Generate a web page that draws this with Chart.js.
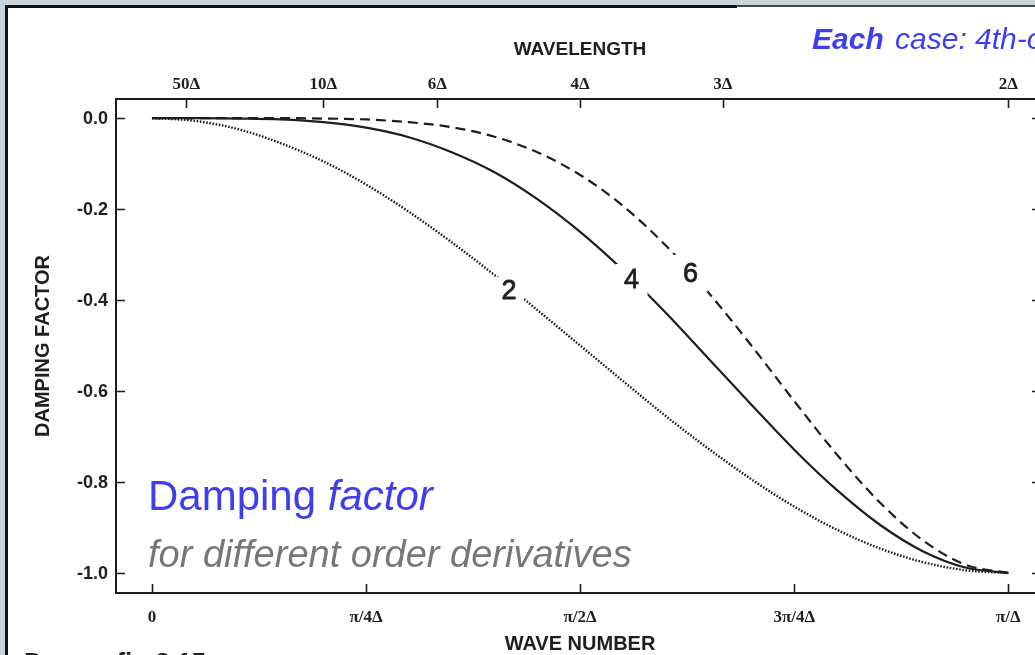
<!DOCTYPE html>
<html>
<head>
<meta charset="utf-8">
<script src="https://cdn.jsdelivr.net/npm/chart.js@4.4.1/dist/chart.umd.min.js"></script>
<style>
  html, body { margin: 0; padding: 0; background: #ffffff; overflow: hidden; }
  #wrap { position: absolute; left: 0; top: 0; width: 1050px; height: 655px; }
</style>
</head>
<body>
<div id="wrap"><canvas id="c" width="1050" height="655"></canvas></div>
<script>
// Wave number in units of pi/Δ
const waveNumber = [0, 0.05, 0.10, 0.15, 0.20, 0.25, 0.30, 0.35, 0.40, 0.45, 0.50,
                    0.55, 0.60, 0.65, 0.70, 0.75, 0.80, 0.85, 0.90, 0.95, 1.00];
// Damping factor for 2nd, 4th and 6th order diffusion
const damping2 = [0, -0.006, -0.024, -0.055, -0.095, -0.146, -0.206, -0.273, -0.345, -0.422, -0.500,
                  -0.578, -0.655, -0.727, -0.794, -0.854, -0.905, -0.946, -0.976, -0.994, -1.000];
const damping4 = [0, 0, -0.001, -0.003, -0.009, -0.021, -0.042, -0.075, -0.119, -0.178, -0.250,
                  -0.334, -0.428, -0.529, -0.630, -0.729, -0.818, -0.894, -0.952, -0.988, -1.000];
const damping6 = [0, 0, 0, 0, -0.001, -0.003, -0.009, -0.020, -0.041, -0.075, -0.125,
                  -0.193, -0.280, -0.384, -0.500, -0.622, -0.740, -0.845, -0.928, -0.982, -1.000];

const yTickValues = [0, -0.2, -0.4, -0.6, -0.8, -1.0];
const yTickLabels = ['0.0', '-0.2', '-0.4', '-0.6', '-0.8', '-1.0'];
const kTickValues = [0, 0.25, 0.5, 0.75, 1];
const kTickLabels = ['0', 'π/4Δ', 'π/2Δ', '3π/4Δ', 'π/Δ'];
const wavelengths = [50, 10, 6, 4, 3, 2];           // in units of Δ
const wavelengthLabels = ['50Δ', '10Δ', '6Δ', '4Δ', '3Δ', '2Δ'];

const curveNames = ['2', '4', '6'];
const curveNameAt = [[0.417, -0.378], [0.560, -0.356], [0.629, -0.341]];

const toPoints = (ys) => waveNumber.map((x, i) => ({ x: x, y: ys[i] }));

const INK = '#1e1e1e';
const SANS = '"Liberation Sans", Arial, sans-serif';
const SERIF = '"Liberation Serif", "Times New Roman", serif';

const decor = {
  id: 'decor',
  beforeDraw(chart) {
    const ctx = chart.ctx;
    ctx.save();
    ctx.fillStyle = '#ffffff';
    ctx.fillRect(0, 0, chart.width, chart.height);
    // slide frame
    ctx.fillStyle = '#c9d3da';
    ctx.fillRect(0, 0, chart.width, 5);
    ctx.fillRect(0, 0, 5, chart.height);
    ctx.fillStyle = '#111';
    ctx.fillRect(5, 5, 732, 3);
    ctx.fillRect(5, 5, 3, chart.height);
    ctx.fillStyle = '#444';
    ctx.fillRect(737, 5, chart.width - 737, 2);
    ctx.restore();
  },
  afterDatasetsDraw(chart) {
    const ctx = chart.ctx;
    const xs = chart.scales.x, ys = chart.scales.y;
    const a = chart.chartArea;
    ctx.save();

    // curve names, with the line broken around each one
    const boxes = [[30, 26], [32, 32], [34, 37]];
    ctx.font = '27px ' + SANS;
    ctx.textAlign = 'center';
    ctx.textBaseline = 'middle';
    ctx.lineWidth = 0.8;
    ctx.strokeStyle = INK;
    curveNames.forEach((t, i) => {
      const px = xs.getPixelForValue(curveNameAt[i][0]);
      const py = ys.getPixelForValue(curveNameAt[i][1]);
      ctx.fillStyle = '#ffffff';
      ctx.fillRect(px - boxes[i][0] / 2, py - boxes[i][1] / 2, boxes[i][0], boxes[i][1]);
      ctx.fillStyle = INK;
      ctx.fillText(t, px, py + 1);
      ctx.strokeText(t, px, py + 1);
    });

    // axis box
    ctx.strokeStyle = INK;
    ctx.lineWidth = 2;
    ctx.strokeRect(a.left, a.top, a.right - a.left, a.bottom - a.top);

    // inward ticks
    ctx.lineWidth = 1.6;
    ctx.beginPath();
    yTickValues.forEach(v => {
      const py = Math.round(ys.getPixelForValue(v)) + 0.5;
      ctx.moveTo(a.left - 1, py); ctx.lineTo(a.left + 9, py);
      ctx.moveTo(a.right - 8, py); ctx.lineTo(a.right, py);
    });
    kTickValues.forEach(v => {
      const px = Math.round(xs.getPixelForValue(v)) + 0.5;
      ctx.moveTo(px, a.bottom); ctx.lineTo(px, a.bottom - 9);
    });
    wavelengths.forEach(L => {
      const px = Math.round(xs.getPixelForValue(2 / L)) + 0.5;
      ctx.moveTo(px, a.top); ctx.lineTo(px, a.top + 9);
    });
    ctx.stroke();

    // tick labels
    ctx.fillStyle = INK;
    ctx.font = 'bold 18px ' + SANS;
    ctx.textAlign = 'right';
    ctx.textBaseline = 'middle';
    yTickValues.forEach((v, i) => ctx.fillText(yTickLabels[i], 108, ys.getPixelForValue(v) + 1));

    ctx.font = 'bold 17px ' + SERIF;
    ctx.textAlign = 'center';
    ctx.textBaseline = 'alphabetic';
    kTickValues.forEach((v, i) => ctx.fillText(kTickLabels[i], xs.getPixelForValue(v), 622));
    wavelengths.forEach((L, i) => ctx.fillText(wavelengthLabels[i], xs.getPixelForValue(2 / L), 89));

    // axis titles
    ctx.font = 'bold 19px ' + SANS;
    ctx.fillText('WAVELENGTH', 580, 55);
    ctx.font = 'bold 20px ' + SANS;
    ctx.fillText('WAVE NUMBER', 580, 650);
    ctx.save();
    ctx.translate(49, 346);
    ctx.rotate(-Math.PI / 2);
    ctx.fillText('DAMPING FACTOR', 0, 0);
    ctx.restore();

    // caption partly below the slide edge
    ctx.textAlign = 'left';
    ctx.font = 'bold 26px ' + SANS;
    ctx.fillText('Durran fig 3.15', 24, 671);

    // slide headline text
    ctx.fillStyle = '#3d3df2';
    ctx.font = '42px ' + SANS;
    ctx.fillText('Damping ', 148, 510);
    let w = ctx.measureText('Damping ').width;
    ctx.font = 'italic 42px ' + SANS;
    ctx.fillText('factor', 148 + w, 510);

    ctx.fillStyle = '#777777';
    ctx.font = 'italic 38px ' + SANS;
    ctx.fillText('for different order derivatives', 148, 567);

    ctx.fillStyle = '#3d3df2';
    ctx.font = 'italic bold 30px ' + SANS;
    ctx.fillText('Each', 812, 49);
    w = ctx.measureText('Each').width;
    ctx.font = 'italic 30px ' + SANS;
    ctx.fillText(' case: 4th-order', 812 + w + 3, 49);

    ctx.restore();
  }
};

new Chart(document.getElementById('c'), {
  type: 'line',
  data: {
    datasets: [
      { label: '2', data: toPoints(damping2), borderColor: INK, borderWidth: 2.4,
        borderDash: [1.6, 1.6], pointRadius: 0, cubicInterpolationMode: 'monotone' },
      { label: '4', data: toPoints(damping4), borderColor: INK, borderWidth: 2.2,
        pointRadius: 0, cubicInterpolationMode: 'monotone' },
      { label: '6', data: toPoints(damping6), borderColor: INK, borderWidth: 2.2,
        borderDash: [10, 6], pointRadius: 0, cubicInterpolationMode: 'monotone' }
    ]
  },
  options: {
    responsive: false,
    animation: false,
    devicePixelRatio: 1,
    layout: { padding: { left: 116, top: 99, right: 10, bottom: 62 } },
    plugins: { legend: { display: false }, tooltip: { enabled: false } },
    scales: {
      x: { type: 'linear', min: -0.042, max: 1.037, display: false },
      y: { type: 'linear', min: -1.044, max: 0.042, display: false }
    }
  },
  plugins: [decor]
});
</script>
</body>
</html>
